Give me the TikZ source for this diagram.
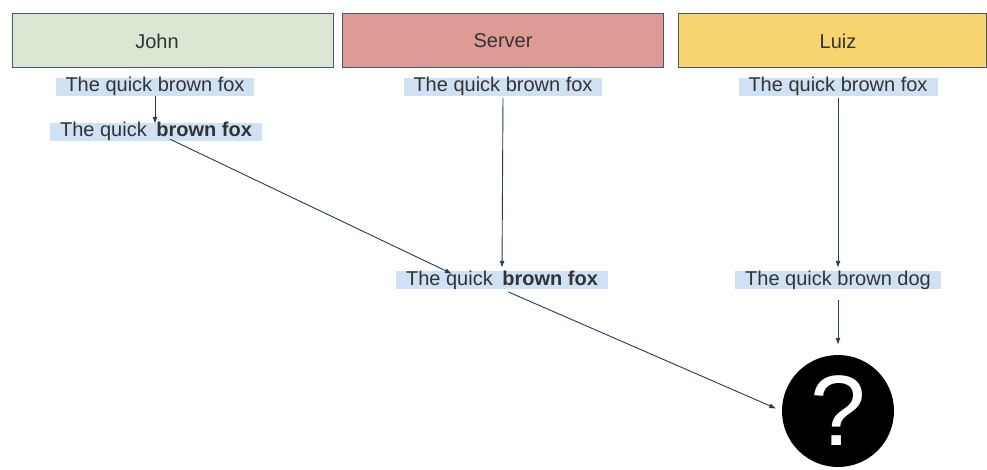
\documentclass[tikz,border=0pt]{standalone}
\usepackage{fontspec}
\setmainfont{Liberation Sans}
\usetikzlibrary{arrows.meta,positioning,calc}

\definecolor{johnfill}{HTML}{D9E7D3}
\definecolor{serverfill}{HTML}{DE9B96}
\definecolor{luizfill}{HTML}{F6D46F}
\definecolor{boxline}{HTML}{46576E}
\definecolor{hl}{HTML}{CFE1F3}
\definecolor{arrowc}{HTML}{23395D}
\definecolor{txt}{HTML}{333333}

\begin{document}
\begin{tikzpicture}[x=1pt, y=-1pt,
  every node/.style={font=\fontsize{20}{22}\selectfont, text=txt},
  head/.style={draw=boxline, line width=1.3pt, minimum height=54pt, anchor=north west, inner sep=0pt},
  msg/.style={fill=hl, inner xsep=10pt, inner ysep=0pt, text height=14pt, text depth=4pt},
  arr/.style={draw=arrowc, line width=0.9pt, -{Latex[length=7pt,width=5pt]}},
]
\useasboundingbox (0,0) rectangle (987,470);
% Header boxes
\node[head, fill=johnfill, minimum width=321pt] (john) at (12,13) {};
\node[head, fill=serverfill, minimum width=321pt] (server) at (342,13) {};
\node[head, fill=luizfill, minimum width=308pt] (luiz) at (678,13) {};
\node (johnname) at (157,41) {John};
\node (servername) at (503,41) {Server};
\node (luizname) at (838,41) {Luiz};
% John column
\node[msg] (j1) at (155,87) {The quick brown fox};
\node[msg] (j2) at (156,132) {The quick\hspace{4pt} \textbf{brown fox}};
% Server column
\node[msg] (s1) at (503,87) {The quick brown fox};
\node[msg] (s2) at (502,280) {The quick\hspace{4pt} \textbf{brown fox}};
% Luiz column
\node[msg] (l1) at (838,87) {The quick brown fox};
\node[msg] (l2) at (838,280) {The quick brown dog};
% Conflict
\node[circle, fill=black, minimum size=112pt, inner sep=0pt, text depth=0pt,
  font=\fontsize{100}{100}\selectfont, text=white] (q) at (838,411) {?};
% Arrows
\draw[arr] (j1.south) -- ([yshift=-1pt]j2.north -| j1.south);
\draw[arr] ([xshift=14pt,yshift=2pt]j2.south) -- ([xshift=-50pt,yshift=-3pt]s2.north);
\draw[arr, shorten <=2pt, shorten >=3pt] (s1.south) -- (s2.north);
\draw[arr, shorten <=2pt, shorten >=3pt] (l1.south) -- (l2.north);
\draw[arr, shorten <=11pt, shorten >=10pt] (l2.south) -- (q.north);
\draw[arr, shorten <=7pt, shorten >=6pt] (s2.south) -- (q.west);
\end{tikzpicture}
\end{document}
